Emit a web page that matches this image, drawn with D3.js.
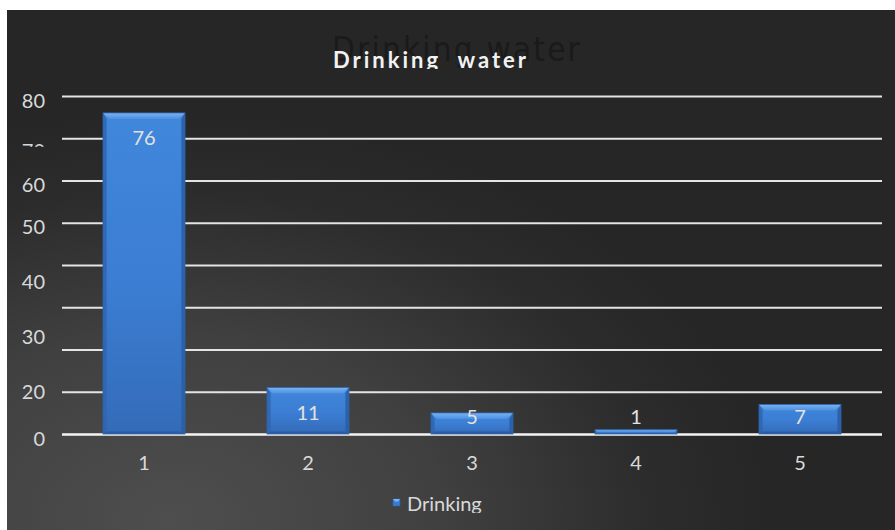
<!DOCTYPE html>
<html>
<head>
<meta charset="utf-8">
<script src="https://cdn.jsdelivr.net/npm/d3@7/dist/d3.min.js"></script>
<style>
  html, body { margin: 0; padding: 0; background: #ffffff; }
  svg { display: block; }
  text { font-family: Lato, "Open Sans", sans-serif; }
  text.ghost { font-family: "DejaVu Sans Condensed", "Liberation Sans Narrow", "DejaVu Sans", sans-serif; }
</style>
</head>
<body>
<script>
// Chart data
const categories = ["1", "2", "3", "4", "5"];
const values = [76, 11, 5, 1, 7];
const yTicks = [0, 10, 20, 30, 40, 50, 60, 70, 80];
const yTickLabels = [0, 20, 30, 40, 50, 60, 70, 80];
const titleText = "Drinking  water";
const ghostTitleText = "Drinking water";
const legendText = "Drinking";

const W = 895, H = 530;
const panel = { x: 7, y: 10 };
const plot = { left: 62, right: 882, top: 96, bottom: 434 };

const svg = d3.select("body").append("svg")
  .attr("width", W).attr("height", H);

const defs = svg.append("defs");

// Dark panel with a soft lighter glow toward the lower left
const bg = defs.append("radialGradient").attr("id", "bgGrad")
  .attr("gradientUnits", "userSpaceOnUse")
  .attr("cx", 170).attr("cy", 520).attr("r", 480)
  .attr("gradientTransform", "translate(170,520) scale(1.25,0.85) rotate(-25) translate(-170,-520)");
bg.append("stop").attr("offset", 0).attr("stop-color", "#4e4e4e");
bg.append("stop").attr("offset", 0.45).attr("stop-color", "#404040");
bg.append("stop").attr("offset", 0.8).attr("stop-color", "#2c2c2c");
bg.append("stop").attr("offset", 1).attr("stop-color", "#262626");

// Bar body gradient
const barGrad = defs.append("linearGradient").attr("id", "barGrad")
  .attr("x1", 0).attr("y1", 0).attr("x2", 0).attr("y2", 1);
barGrad.append("stop").attr("offset", 0).attr("stop-color", "#4087dc");
barGrad.append("stop").attr("offset", 0.55).attr("stop-color", "#3b7dd2");
barGrad.append("stop").attr("offset", 1).attr("stop-color", "#346bb8");

const topGrad = defs.append("linearGradient").attr("id", "topGrad")
  .attr("x1", 0).attr("y1", 0).attr("x2", 0).attr("y2", 1);
topGrad.append("stop").attr("offset", 0).attr("stop-color", "#7ab3f0");
topGrad.append("stop").attr("offset", 1).attr("stop-color", "#4d90e2");

// Clip regions for the partly hidden texts
defs.append("clipPath").attr("id", "titleClip")
  .append("rect").attr("x", 0).attr("y", 0).attr("width", W).attr("height", 69);
defs.append("clipPath").attr("id", "legendClip")
  .append("rect").attr("x", 0).attr("y", 480).attr("width", W).attr("height", 33);
// local to the "70" tick: only a thin strip of the glyph tops stays visible
defs.append("clipPath").attr("id", "tick70Clip")
  .append("rect").attr("x", -60).attr("y", 4.5).attr("width", 60).attr("height", 3.5);

svg.append("rect")
  .attr("x", panel.x).attr("y", panel.y)
  .attr("width", W - panel.x).attr("height", H - panel.y)
  .attr("fill", "url(#bgGrad)");

// Scales
const x = d3.scaleBand().domain(categories)
  .range([plot.left, plot.right]).paddingInner(0.5).paddingOuter(0.25);
const y = d3.scaleLinear().domain([0, 80]).range([plot.bottom, plot.top]);
// Value-axis labels sit on a stretched scale in the lower part of the axis
const labelY = d3.scaleLinear().domain([0, 20, 50, 80])
  .range([y(0), y(11), y(50), y(80)]);

// Titles
svg.append("text")
  .attr("class", "ghost")
  .attr("x", 457).attr("y", 61)
  .attr("text-anchor", "middle")
  .style("font-size", "33px")
  .style("letter-spacing", "2.2px")
  .attr("fill", "#1a1a1a")
  .text(ghostTitleText);

svg.append("text")
  .attr("clip-path", "url(#titleClip)")
  .attr("x", 431).attr("y", 67.5)
  .attr("text-anchor", "middle")
  .style("font-size", "22px").style("font-weight", "700")
  .style("letter-spacing", "3px")
  .style("white-space", "pre")
  .attr("fill", "#f2f2f2")
  .text(titleText);

// Gridlines
const grid = svg.append("g")
  .attr("transform", `translate(${plot.left},0)`)
  .call(d3.axisLeft(y).tickValues(yTicks).tickSize(-(plot.right - plot.left)).tickFormat(""));
grid.select(".domain").remove();
grid.selectAll(".tick line")
  .attr("stroke", d => d === 0 ? "#f4f4f4" : "#e4e4e4")
  .attr("stroke-width", d => d === 0 ? 2.6 : 1.8);

// Value-axis labels
const yLab = svg.append("g")
  .attr("transform", "translate(45,0)")
  .call(d3.axisLeft(labelY).tickValues(yTickLabels).tickSize(0).tickPadding(0));
yLab.select(".domain").remove();
yLab.selectAll(".tick text")
  .attr("dy", "11")
  .attr("fill", "#d9d9d9")
  .style("font-family", "Lato, 'Open Sans', sans-serif")
  .style("font-size", "20px");
yLab.selectAll(".tick").filter(d => d === 70)
  .select("text")
  .attr("dy", "19")
  .attr("clip-path", "url(#tick70Clip)");

// Bars with bevelled edges
const bars = svg.append("g").selectAll("g.bar")
  .data(values.map((v, i) => ({ cat: categories[i], v })))
  .join("g").attr("class", "bar");

bars.each(function (d) {
  const g = d3.select(this);
  const bx = x(d.cat), bw = x.bandwidth();
  const by = y(d.v), bh = y(0) - y(d.v);
  const b = Math.min(6, bh / 2);
  g.append("rect")
    .attr("x", bx).attr("y", by).attr("width", bw).attr("height", bh)
    .attr("fill", "url(#barGrad)");
  // left edge
  g.append("polygon")
    .attr("points", [[bx, by], [bx + b * 0.6, by + b], [bx + b * 0.6, by + bh - b * 0.4], [bx, by + bh]].join(" "))
    .attr("fill", "#2f66b0").attr("opacity", 0.9);
  // right edge
  g.append("polygon")
    .attr("points", [[bx + bw, by], [bx + bw - b * 0.6, by + b], [bx + bw - b * 0.6, by + bh - b * 0.4], [bx + bw, by + bh]].join(" "))
    .attr("fill", "#2a5ea6").attr("opacity", 0.9);
  // bottom edge
  g.append("polygon")
    .attr("points", [[bx, by + bh], [bx + b * 0.6, by + bh - b * 0.4], [bx + bw - b * 0.6, by + bh - b * 0.4], [bx + bw, by + bh]].join(" "))
    .attr("fill", "#2b5c9f");
  // top bevel
  g.append("polygon")
    .attr("points", [[bx, by], [bx + bw, by], [bx + bw - b, by + b], [bx + b, by + b]].join(" "))
    .attr("fill", "url(#topGrad)");
  g.append("rect")
    .attr("x", bx).attr("y", by).attr("width", bw).attr("height", bh)
    .attr("fill", "none").attr("stroke", "#2d63ad").attr("stroke-width", 0.8);
});

// Data labels inside the bar ends
svg.append("g").selectAll("text")
  .data(values.map((v, i) => ({ cat: categories[i], v })))
  .join("text")
  .attr("x", d => x(d.cat) + x.bandwidth() / 2)
  .attr("y", d => Math.min(y(d.v) + 25, y(0) - 17) + 7)
  .attr("text-anchor", "middle")
  .attr("fill", "#e2e2e2")
  .style("font-size", "20px")
  .text(d => d.v);

// Category axis
const xAx = svg.append("g")
  .attr("transform", `translate(0,${y(0)})`)
  .call(d3.axisBottom(x).tickSize(0).tickPadding(0));
xAx.select(".domain").remove();
xAx.selectAll(".tick text")
  .attr("dy", "36")
  .attr("fill", "#d9d9d9")
  .style("font-family", "Lato, 'Open Sans', sans-serif")
  .style("font-size", "20px");

// Legend
const leg = svg.append("g");
leg.append("rect")
  .attr("x", 393).attr("y", 499).attr("width", 7).attr("height", 7)
  .attr("fill", "#3a7bcf").attr("stroke", "#2d63ad").attr("stroke-width", 0.6);
leg.append("polygon")
  .attr("points", "393,499 400,499 398,501.5 395,501.5")
  .attr("fill", "#7ab3f0");
leg.append("text")
  .attr("clip-path", "url(#legendClip)")
  .attr("x", 407).attr("y", 511)
  .attr("fill", "#d9d9d9")
  .style("font-size", "20px")
  .text(legendText);
</script>
</body>
</html>
